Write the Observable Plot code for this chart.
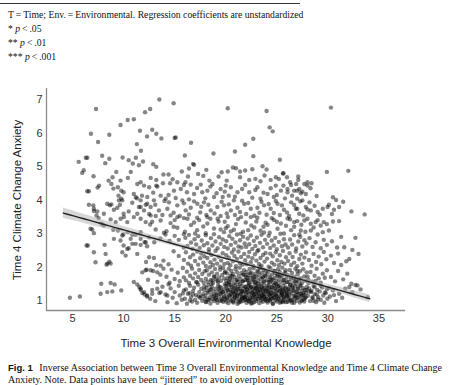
<!DOCTYPE html>
<html><head><meta charset="utf-8">
<script src="https://cdn.jsdelivr.net/npm/d3@7"></script>
<script src="https://cdn.jsdelivr.net/npm/@observablehq/plot@0.6"></script>
<style>
body{margin:0;width:465px;height:385px;overflow:hidden;background:#fff;position:relative;font-family:"Liberation Serif","Times New Roman",serif;color:#111;}
#chart{position:absolute;left:0;top:0;}
.t{position:absolute;white-space:nowrap;}
.note{left:8px;font-size:9.7px;line-height:12px;}
.rule{position:absolute;left:0;top:3px;width:300px;border-top:1px solid #333;}
.ylab{left:17px;top:200px;font-family:"Liberation Sans",Arial,sans-serif;font-size:11.5px;color:#222;transform:translate(-50%,-50%) rotate(-90deg);}
.xlab{left:226px;top:343px;font-family:"Liberation Sans",Arial,sans-serif;font-size:11.5px;color:#222;transform:translate(-50%,-50%);}
.cap{left:8px;top:362px;font-size:10px;line-height:12px;}
.cap b{font-family:"Liberation Sans",Arial,sans-serif;font-size:9.5px;margin-right:4px;}
</style></head>
<body>
<div id="chart"></div>
<div class="rule"></div>
<div class="t note" style="top:9px">T&#8239;=&#8239;Time; Env.&#8239;=&#8239;Environmental. Regression coefficients are unstandardized</div>
<div class="t note" style="top:23px">* <i>p</i>&#8239;&lt;&#8239;.05</div>
<div class="t note" style="top:37px">** <i>p</i>&#8239;&lt;&#8239;.01</div>
<div class="t note" style="top:51px">*** <i>p</i>&#8239;&lt;&#8239;.001</div>
<div class="t ylab">Time 4 Climate Change Anxiety</div>
<div class="t xlab">Time 3 Overall Environmental Knowledge</div>
<div class="t cap"><b>Fig. 1</b> Inverse Association between Time 3 Overall Environmental Knowledge and Time 4 Climate Change<br>Anxiety. Note. Data points have been “jittered” to avoid overplotting</div>
<script>
// [knowledge (T3), anxiety (T4)] pairs
const upperPoints = [[13.5,7.0],[14.9,6.89],[7.3,6.72],[12.6,6.72],[12.1,6.62],[20.2,6.74],[24.0,6.66],[30.3,6.76],[10.4,6.39],[11.0,6.41],[9.7,6.24],[24.3,6.17],[24.6,6.05],[11.6,6.07],[12.8,6.1],[13.2,5.98],[6.8,5.98],[8.6,5.95],[12.3,5.9],[13.7,5.84],[15.0,5.85],[15.1,5.87],[22.7,5.83],[7.5,5.73],[11.3,5.67],[16.6,5.71],[21.9,5.65],[11.7,5.47],[20.9,5.45],[18.8,5.39],[16.0,5.33],[22.7,5.31],[25.3,5.2],[5.6,5.14],[6.3,5.26],[6.45,5.26],[7.9,5.32],[8.6,5.23],[9.9,5.27],[10.5,5.19],[10.9,5.09],[11.2,5.26],[11.5,5.04],[11.9,5.15],[8.2,5.1],[12.9,5.07],[13.2,4.99],[16.4,4.94],[16.8,5.08],[16.9,5.05],[20.7,4.97],[21.0,4.95],[23.6,5.01],[24.0,4.91],[5.95,4.81],[6.1,4.89],[10.7,4.84],[13.9,4.76],[14.4,4.76],[17.3,4.78],[20.2,4.85],[21.4,4.85],[21.9,4.88],[29.9,4.84],[32.0,4.87],[25.6,4.79],[7.06,4.71],[9.28,4.84],[8.92,4.68],[10.42,4.66],[15.7,4.85],[18.1,4.9],[19.6,4.83],[22.6,4.92],[25.65,4.8]];
const leftPoints = [[7.6,4.43],[7.45,4.37],[8.53,4.58],[8.8,4.48],[9.0,4.34],[9.44,4.38],[9.7,4.58],[9.77,4.28],[10.0,4.23],[6.44,4.26],[6.6,4.26],[9.5,4.13],[9.77,4.04],[9.87,3.99],[11.0,4.18],[11.2,4.08],[11.3,4.05],[11.67,3.99],[11.8,4.13],[8.4,3.89],[8.66,3.84],[8.8,3.87],[9.05,3.71],[9.38,3.77],[9.64,3.86],[7.03,3.84],[7.09,3.74],[7.09,3.67],[6.6,3.86],[7.35,3.54],[7.55,3.46],[7.84,3.29],[8.07,3.24],[6.76,3.14],[7.09,3.01],[6.93,3.12],[6.37,2.64],[8.14,2.66],[8.24,2.39],[8.6,2.16],[8.73,2.1],[8.33,2.07],[9.87,2.44],[10.2,2.34],[10.36,2.54],[8.99,3.11],[9.44,3.09],[9.97,2.97],[10.4,3.04],[11.67,2.66],[12.06,2.74],[11.34,2.39],[7.81,1.5],[8.73,1.52],[9.12,1.48],[8.4,1.25],[8.89,1.27],[9.77,1.3],[4.74,1.08],[5.72,1.12],[7.75,1.2],[11.0,1.55],[11.34,1.48],[11.54,1.4],[11.67,1.32],[11.83,1.22],[12.06,1.18],[12.3,1.15],[11.83,1.84],[12.25,1.92],[11.34,4.48],[11.67,3.79],[12.0,3.69],[12.32,3.89],[11.34,3.59],[11.67,3.44],[10.03,3.49],[10.36,3.34],[10.69,2.84],[11.18,2.69],[9.05,2.84],[9.7,2.79],[10.0,2.64],[10.5,2.56],[10.85,2.69],[11.18,2.96],[10.5,3.66],[11.0,3.49],[9.22,3.34],[9.7,3.44],[10.0,3.59],[10.85,3.92],[11.5,3.79],[12.16,3.86],[9.54,3.99],[8.73,3.42],[8.07,3.59],[7.42,3.66],[7.09,2.44],[7.25,2.14],[12.0,4.43],[12.5,4.38],[12.65,4.66],[11.67,4.53],[12.32,4.09],[12.0,1.25],[12.8,1.2],[11.67,1.35],[12.16,1.9],[12.65,1.9],[12.5,2.29],[11.67,2.84],[12.16,2.74],[9.87,2.94],[10.85,2.96],[11.67,3.04],[12.5,2.89],[12.65,3.54],[12.16,3.34],[6.5,2.64],[8.4,2.1]];
const band4 = [[13.2,4.6],[13.85,4.5],[14.55,4.5],[15.26,4.53],[16.05,4.53],[16.57,4.46],[17.55,4.46],[13.2,4.43],[13.3,4.4],[19.3,4.7],[20.1,4.58],[18.4,4.58],[18.7,4.48],[21.4,4.68],[22.3,4.6],[22.9,4.63],[23.1,4.38],[22.3,4.23],[21.6,4.33],[21.15,4.23],[20.5,4.38],[20.0,4.43],[19.5,4.33],[23.8,4.73],[23.4,4.56],[25.2,4.63],[26.3,4.53],[24.4,4.6],[24.9,4.43],[25.4,4.28],[26.05,4.33],[26.9,4.48],[27.0,4.28],[26.5,4.13],[24.7,4.09],[24.1,4.18],[23.4,4.04],[14.93,4.28],[15.6,4.33],[16.2,4.23],[16.9,4.18],[17.7,4.23],[18.2,4.28],[18.85,4.09],[19.7,4.09],[20.3,4.13],[13.63,4.13],[14.12,4.04],[26.0,4.68],[26.4,4.45],[27.2,4.33],[25.65,4.43],[26.05,4.23],[27.0,4.04],[27.7,4.48],[28.0,4.53],[28.4,4.5],[28.0,4.43],[27.1,4.6],[27.5,4.25],[26.7,4.28],[27.35,4.2],[27.84,4.18],[30.5,4.08],[30.8,4.0],[12.9,4.22],[14.4,4.15],[15.1,4.06],[15.9,4.45],[16.4,4.02],[17.2,4.36],[18.0,4.05],[18.5,4.4],[19.1,4.2],[19.9,4.25],[20.9,4.1],[21.9,4.45],[22.6,4.07],[22.9,4.3],[23.7,4.22],[24.4,4.35],[25.0,4.15],[25.8,4.05],[28.3,4.35],[28.9,4.12],[14.8,4.62],[17.8,4.72],[24.9,4.68],[27.1,4.7],[16.3,4.7]];
const band35 = [[12.97,3.99],[14.44,3.93],[12.65,3.79],[13.46,3.69],[14.28,3.74],[15.26,3.84],[15.75,3.99],[16.08,3.69],[16.57,3.77],[17.22,3.89],[17.87,3.93],[18.53,3.69],[19.18,3.79],[19.83,3.84],[20.5,3.69],[21.15,3.77],[21.8,3.89],[22.45,3.74],[23.1,3.77],[23.75,3.84],[24.4,3.74],[25.07,3.89],[25.7,3.71],[26.4,3.93],[27.0,3.74],[20.8,3.99],[27.5,3.99],[28.2,3.93],[27.84,3.79],[26.86,3.74],[28.33,3.69],[27.2,3.59],[29.0,3.64],[29.5,3.74],[29.97,3.79],[30.1,3.86],[31.1,3.79],[30.6,3.71],[32.3,3.66],[33.6,3.57],[13.14,3.52],[14.6,3.54],[12.5,3.58],[13.1,3.86],[13.8,3.55],[14.0,3.97],[14.9,3.62],[15.5,3.52],[15.9,3.9],[16.4,3.57],[16.9,3.96],[17.5,3.63],[17.6,3.8],[18.1,3.55],[18.3,3.86],[18.9,3.6],[19.5,3.52],[19.6,3.95],[20.1,3.6],[20.3,3.87],[20.9,3.55],[21.4,3.64],[21.6,3.98],[22.0,3.58],[22.2,3.91],[22.8,3.53],[23.3,3.62],[23.5,3.95],[24.0,3.56],[24.2,3.88],[24.7,3.61],[24.9,3.97],[25.3,3.55],[25.5,3.84],[26.0,3.63],[26.2,3.52],[26.7,3.85],[27.3,3.96],[27.6,3.54],[28.0,3.72],[28.7,3.83],[29.2,3.56],[30.4,3.58],[31.5,3.95]];
const band3 = [[13.63,3.39],[15.26,3.49],[16.25,3.44],[17.2,3.47],[18.2,3.49],[19.2,3.44],[20.2,3.49],[21.5,3.49],[22.45,3.49],[26.7,3.34],[27.7,3.39],[28.33,3.29],[28.8,3.34],[29.3,3.24],[29.6,3.34],[30.1,3.09],[29.5,3.04],[28.33,3.09],[27.35,3.09],[30.5,3.36],[31.1,3.37],[15.9,3.46],[17.4,3.4],[19.3,3.36],[21.2,3.43],[23.1,3.47],[24.7,3.41],[26.05,3.45],[27.0,3.37],[12.6,3.27],[14.6,3.31],[16.6,3.25],[18.2,3.3],[20.2,3.22],[21.96,3.33],[24.1,3.26],[25.4,3.3],[26.7,3.2],[13.14,3.12],[15.26,3.17],[17.2,3.1],[18.85,3.15],[20.8,3.11],[22.8,3.18],[23.4,3.08],[25.07,3.14],[26.4,3.1],[13.95,3.02],[18.04,3.01],[19.83,3.04],[23.75,3.03],[25.7,3.0],[12.8,3.35],[14.2,3.07],[15.0,3.4],[16.0,3.05],[16.9,3.33],[17.8,3.21],[18.5,3.44],[19.5,3.12],[19.9,3.35],[20.5,3.06],[21.0,3.28],[22.2,3.1],[22.5,3.24],[23.0,3.36],[23.7,3.2],[24.3,3.02],[24.5,3.46],[25.0,3.35],[25.9,3.23],[26.3,3.42],[27.4,3.26],[27.8,3.05],[28.0,3.44],[28.6,3.18],[29.0,3.4],[29.9,3.28],[14.9,3.2],[17.0,3.0],[20.0,3.16],[21.7,3.05],[23.9,3.32]];
const band25 = [[12.3,2.62],[13.0,2.74],[13.6,2.85],[14.1,2.97],[14.5,2.78],[15.0,2.93],[15.4,2.81],[15.9,2.58],[16.05,2.87],[16.25,2.63],[16.4,2.96],[16.6,2.73],[16.75,2.54],[16.95,2.83],[17.1,2.67],[17.3,2.92],[17.45,2.57],[17.65,2.79],[17.85,2.65],[18.05,2.95],[18.2,2.71],[18.35,2.53],[18.55,2.86],[18.7,2.64],[18.85,2.98],[19.0,2.76],[19.2,2.56],[19.35,2.89],[19.5,2.69],[19.7,2.82],[19.85,2.6],[20.05,2.77],[20.2,2.55],[20.35,2.92],[20.5,2.66],[20.65,2.84],[20.8,2.52],[20.95,2.73],[21.1,2.97],[21.25,2.61],[21.4,2.8],[21.55,2.58],[21.7,2.9],[21.85,2.7],[22.0,2.6],[22.15,2.85],[22.3,2.68],[22.45,2.94],[22.6,2.54],[22.75,2.78],[22.9,2.63],[23.05,2.88],[23.2,2.51],[23.35,2.72],[23.5,2.96],[23.65,2.59],[23.85,2.81],[24.05,2.69],[24.2,2.93],[24.35,2.57],[24.5,2.79],[24.7,2.64],[24.85,2.87],[25.0,2.53],[25.2,2.75],[25.35,2.99],[25.5,2.62],[25.7,2.83],[25.85,2.67],[26.1,2.58],[26.3,2.82],[26.5,2.67],[26.7,2.95],[26.9,2.55],[27.1,2.76],[27.3,2.9],[27.5,2.61],[27.7,2.8],[27.9,2.7],[28.2,2.86],[28.5,2.6],[28.8,2.74],[29.0,2.97],[29.3,2.56],[29.6,2.81],[29.9,2.66],[30.4,2.77],[30.9,2.58],[31.3,2.9],[32.7,2.87],[31.6,2.59],[32.4,2.51],[15.9,2.98],[21.47,2.99],[27.2,2.97]];
const band2 = [[12.2,2.15],[13.2,2.05],[13.9,2.19],[14.4,2.08],[14.9,2.47],[15.4,2.33],[15.9,2.21],[16.1,2.44],[16.3,2.1],[16.5,2.29],[16.6,2.04],[16.8,2.37],[17.0,2.18],[17.2,2.46],[17.3,2.07],[17.5,2.26],[17.6,2.4],[17.8,2.13],[17.9,2.32],[18.05,2.03],[18.2,2.27],[18.35,2.45],[18.5,2.14],[18.6,2.36],[18.75,2.06],[18.9,2.22],[19.0,2.48],[19.15,2.1],[19.3,2.31],[19.45,2.01],[19.55,2.19],[19.7,2.41],[19.85,2.09],[20.05,2.35],[20.2,2.12],[20.3,2.28],[20.45,2.05],[20.6,2.43],[20.7,2.17],[20.85,2.33],[21.0,2.02],[21.1,2.24],[21.25,2.46],[21.4,2.11],[21.5,2.3],[21.65,2.07],[21.8,2.39],[21.9,2.2],[22.05,2.08],[22.2,2.31],[22.3,2.45],[22.45,2.14],[22.6,2.26],[22.7,2.03],[22.85,2.38],[23.0,2.19],[23.1,2.47],[23.25,2.09],[23.4,2.27],[23.5,2.04],[23.65,2.36],[23.8,2.16],[23.9,2.42],[24.05,2.25],[24.2,2.01],[24.35,2.4],[24.5,2.13],[24.6,2.32],[24.75,2.07],[24.9,2.44],[25.05,2.2],[25.2,2.05],[25.3,2.35],[25.45,2.15],[25.6,2.48],[25.75,2.1],[25.9,2.29],[26.1,2.18],[26.25,2.41],[26.4,2.06],[26.55,2.3],[26.7,2.13],[26.85,2.46],[27.0,2.02],[27.2,2.24],[27.35,2.37],[27.5,2.1],[27.7,2.28],[27.85,2.44],[28.15,2.21],[28.4,2.04],[28.6,2.39],[28.85,2.15],[29.1,2.31],[29.35,2.08],[29.6,2.45],[29.85,2.23],[30.3,2.34],[30.6,2.12],[31.0,2.4],[31.3,2.06],[33.0,2.39],[32.1,2.24],[31.8,2.17],[12.97,2.27],[13.63,2.04]];
const band15 = [[12.4,1.62],[12.9,1.88],[13.3,1.55],[13.6,1.77],[13.9,1.95],[14.2,1.71],[14.5,1.53],[14.7,1.92],[15.0,1.64],[15.3,1.83],[15.5,1.58],[15.8,1.97],[15.9,1.69],[16.1,1.6],[16.2,1.86],[16.4,1.52],[16.5,1.74],[16.7,1.95],[16.8,1.66],[17.0,1.81],[17.1,1.55],[17.3,1.7],[17.4,1.91],[17.6,1.61],[17.7,1.79],[17.85,1.53],[17.95,1.87],[18.05,1.65],[18.15,1.9],[18.25,1.56],[18.35,1.77],[18.45,1.99],[18.55,1.61],[18.65,1.84],[18.75,1.52],[18.85,1.72],[18.95,1.94],[19.05,1.63],[19.15,1.8],[19.25,1.54],[19.35,1.69],[19.45,1.92],[19.55,1.59],[19.65,1.76],[19.75,1.97],[19.85,1.66],[19.95,1.86],[20.04,1.58],[20.12,1.81],[20.2,1.67],[20.29,1.95],[20.37,1.53],[20.46,1.74],[20.54,1.88],[20.62,1.62],[20.71,1.79],[20.79,1.51],[20.87,1.7],[20.96,1.93],[21.04,1.6],[21.12,1.84],[21.21,1.55],[21.29,1.73],[21.37,1.98],[21.46,1.64],[21.54,1.82],[21.62,1.57],[21.71,1.77],[21.79,1.9],[21.87,1.61],[21.96,1.71],[22.03,1.85],[22.1,1.6],[22.18,1.76],[22.26,1.52],[22.33,1.94],[22.41,1.68],[22.49,1.83],[22.56,1.56],[22.64,1.72],[22.72,1.96],[22.79,1.63],[22.87,1.8],[22.95,1.54],[23.03,1.7],[23.1,1.89],[23.18,1.59],[23.26,1.77],[23.33,1.99],[23.41,1.65],[23.49,1.51],[23.56,1.82],[23.64,1.69],[23.72,1.92],[23.79,1.57],[23.87,1.75],[23.95,1.87],[24.04,1.62],[24.12,1.83],[24.2,1.55],[24.29,1.71],[24.37,1.96],[24.46,1.6],[24.54,1.78],[24.62,1.52],[24.71,1.88],[24.79,1.67],[24.87,1.81],[24.96,1.57],[25.04,1.74],[25.12,1.93],[25.21,1.63],[25.29,1.85],[25.37,1.54],[25.46,1.72],[25.54,1.98],[25.62,1.61],[25.71,1.79],[25.79,1.53],[25.87,1.9],[25.96,1.68],[26.05,1.76],[26.16,1.55],[26.27,1.91],[26.38,1.64],[26.49,1.82],[26.6,1.52],[26.71,1.7],[26.82,1.95],[26.93,1.6],[27.04,1.78],[27.15,1.57],[27.26,1.87],[27.37,1.66],[27.48,1.53],[27.59,1.93],[27.7,1.72],[27.81,1.59],[27.92,1.84],[28.1,1.62],[28.3,1.85],[28.5,1.56],[28.7,1.74],[28.9,1.95],[29.1,1.66],[29.3,1.53],[29.5,1.8],[29.7,1.68],[29.9,1.9],[30.3,1.7],[30.7,1.57],[31.0,1.88],[31.5,1.63],[31.9,1.8],[13.3,1.84]];
const band1 = [[12.3,1.12],[12.8,1.31],[13.1,0.98],[13.5,1.22],[13.8,1.41],[12.6,1.05],[14.1,1.18],[14.3,0.95],[14.6,1.36],[14.8,1.08],[15.0,1.25],[15.2,0.92],[15.4,1.44],[15.5,1.15],[15.7,1.02],[15.9,1.3],[14.4,1.48],[15.8,1.21],[16.0,1.05],[16.1,1.33],[16.2,0.9],[16.3,1.2],[16.5,1.44],[16.6,1.1],[16.7,0.97],[16.8,1.28],[16.9,1.38],[17.0,1.02],[17.1,1.16],[17.2,0.93],[17.3,1.47],[17.4,1.25],[17.5,1.08],[17.6,1.35],[17.7,0.99],[17.8,1.19],[17.9,1.42],[17.95,1.06],[16.45,1.22],[17.35,1.12],[18.0,1.14],[18.05,0.95],[18.1,1.38],[18.2,1.23],[18.25,1.02],[18.3,1.46],[18.4,1.09],[18.45,1.31],[18.5,0.91],[18.6,1.18],[18.65,1.4],[18.7,1.04],[18.8,1.27],[18.85,0.98],[18.9,1.15],[19.0,1.35],[19.05,1.07],[19.1,1.22],[19.2,0.93],[19.25,1.44],[19.3,1.12],[19.4,1.29],[19.45,1.0],[19.5,1.19],[19.55,1.38],[19.6,1.06],[19.7,1.25],[19.75,0.96],[19.8,1.33],[19.85,1.13],[19.9,1.48],[19.95,1.03],[18.55,1.34],[19.15,1.01],[20.0,1.21],[20.05,0.97],[20.1,1.36],[20.15,1.1],[20.2,1.28],[20.25,0.92],[20.3,1.45],[20.35,1.16],[20.4,1.03],[20.45,1.32],[20.5,1.2],[20.55,0.99],[20.6,1.4],[20.65,1.11],[20.7,1.26],[20.75,0.94],[20.8,1.37],[20.85,1.07],[20.9,1.18],[20.95,1.47],[21.0,1.01],[21.05,1.3],[21.1,1.14],[21.15,0.9],[21.2,1.42],[21.25,1.22],[21.3,1.05],[21.35,1.34],[21.4,1.17],[21.45,0.96],[21.5,1.29],[21.55,1.44],[21.6,1.09],[21.65,1.24],[21.7,0.98],[21.75,1.36],[21.8,1.12],[21.85,1.27],[21.9,1.02],[21.95,1.4],[22.0,1.15],[22.04,0.93],[22.08,1.33],[22.12,1.06],[22.17,1.24],[22.21,1.45],[22.25,0.99],[22.3,1.18],[22.34,1.37],[22.38,1.08],[22.43,1.27],[22.47,0.91],[22.51,1.41],[22.56,1.13],[22.6,1.22],[22.64,1.02],[22.69,1.35],[22.73,1.16],[22.77,0.95],[22.82,1.29],[22.86,1.47],[22.9,1.1],[22.95,1.21],[22.99,0.98],[23.03,1.38],[23.08,1.14],[23.12,1.26],[23.16,1.04],[23.21,1.43],[23.25,1.19],[23.29,0.92],[23.34,1.31],[23.38,1.09],[23.42,1.23],[23.47,1.0],[23.51,1.39],[23.55,1.15],[23.6,1.28],[23.64,0.96],[23.68,1.34],[23.73,1.11],[23.77,1.46],[23.81,1.2],[23.86,1.03],[23.92,1.3],[24.0,1.12],[24.05,1.37],[24.1,0.94],[24.14,1.25],[24.19,1.06],[24.24,1.43],[24.29,1.17],[24.33,0.99],[24.38,1.32],[24.43,1.21],[24.48,1.04],[24.52,1.4],[24.57,1.14],[24.62,0.9],[24.67,1.28],[24.71,1.09],[24.76,1.46],[24.81,1.19],[24.86,1.01],[24.9,1.35],[24.95,1.23],[25.0,0.97],[25.05,1.3],[25.1,1.13],[25.14,1.42],[25.19,1.05],[25.24,1.26],[25.29,0.93],[25.33,1.38],[25.38,1.16],[25.43,1.07],[25.48,1.33],[25.52,1.2],[25.57,0.98],[25.62,1.44],[25.67,1.11],[25.71,1.27],[25.76,1.02],[25.81,1.36],[25.86,1.15],[25.9,0.95],[25.95,1.24],[26.0,1.18],[26.06,0.96],[26.12,1.34],[26.19,1.09],[26.25,1.27],[26.31,1.45],[26.37,1.02],[26.44,1.21],[26.5,0.93],[26.56,1.38],[26.62,1.13],[26.69,1.3],[26.75,1.05],[26.81,1.42],[26.87,1.16],[26.94,0.99],[27.0,1.25],[27.06,1.36],[27.12,1.08],[27.19,1.2],[27.25,0.94],[27.31,1.44],[27.37,1.12],[27.44,1.29],[27.5,1.01],[27.56,1.37],[27.62,1.17],[27.69,0.97],[27.75,1.31],[27.81,1.1],[27.87,1.23],[27.94,1.4],[28.05,1.14],[28.15,1.36],[28.25,0.98],[28.35,1.25],[28.5,1.07],[28.6,1.43],[28.7,1.19],[28.85,0.95],[28.95,1.31],[29.05,1.1],[29.2,1.27],[29.3,1.02],[29.45,1.39],[29.55,1.15],[29.65,0.93],[29.8,1.22],[29.9,1.34],[29.95,1.05],[30.2,1.12],[30.5,1.3],[30.8,0.98],[31.1,1.2],[31.4,1.08],[31.7,1.35],[32.3,1.5],[32.7,1.46],[33.2,1.33],[32.9,1.45],[32.1,1.4],[32.4,1.25],[33.9,1.1],[13.3,1.35],[13.63,1.25],[14.28,1.15]];
const coreCluster = [[18.3,1.27],[21.7,1.08],[24.9,1.51],[19.6,0.99],[26.2,1.33],[22.8,1.72],[20.4,1.15],[27.7,1.04],[23.5,1.41],[25.6,0.95],[21.1,1.62],[28.4,1.29],[19.9,1.83],[24.2,1.19],[22.3,0.97],[26.8,1.58],[20.9,1.36],[23.9,1.03],[25.1,1.77],[18.8,1.12],[27.3,1.46],[22.6,1.25],[24.6,0.91],[21.4,1.49],[26.0,1.13],[19.2,1.59],[23.2,1.86],[25.9,1.39],[20.1,1.06],[28.9,1.18],[22.1,1.33],[24.4,1.66],[26.5,1.01],[20.6,1.74],[23.7,1.22],[27.0,1.88],[21.9,1.11],[25.3,1.29],[19.4,1.41],[24.0,0.98],[22.9,1.53],[26.9,1.24],[20.2,1.31],[23.3,1.12],[25.7,1.61],[18.6,1.49],[27.5,1.15],[21.3,0.94],[24.8,1.37],[22.4,1.81],[26.3,1.47],[20.8,1.21],[23.0,1.04],[25.5,1.18],[28.1,1.52],[19.7,1.26],[24.3,1.55],[21.6,1.28],[26.7,0.93],[22.7,1.09],[23.6,1.69],[25.0,1.12],[20.5,1.45],[27.9,1.31],[21.8,1.77],[24.5,1.23],[22.2,1.6],[26.1,1.05],[19.1,1.17],[23.8,1.35],[25.8,1.84],[21.0,1.26],[27.2,1.65],[24.1,1.44],[22.0,1.02],[26.6,1.29],[20.3,1.55],[23.4,1.97],[25.2,1.43],[28.6,0.99],[21.5,1.19],[24.7,1.07],[22.5,1.39],[26.4,1.71],[19.8,1.09],[23.1,1.28],[25.4,0.96],[27.6,1.22],[20.7,0.97],[24.9,1.16],[22.8,1.19],[26.0,1.55],[21.2,1.35],[23.5,1.06],[25.6,1.32],[18.9,1.71],[27.4,0.99],[22.3,1.48],[24.2,1.31],[20.0,1.43],[23.9,1.74],[26.2,1.17],[21.7,1.57],[25.1,1.04],[28.2,1.27],[22.6,0.92],[24.6,1.63],[19.5,1.21],[23.2,1.49],[26.8,1.12],[20.9,1.09],[25.9,1.26],[22.1,1.68],[24.4,1.11],[27.1,1.35],[21.4,1.0],[23.7,1.57],[25.3,1.73],[19.3,1.33],[26.5,1.41],[22.9,1.36],[24.0,1.27],[20.4,1.65],[27.8,1.08],[21.1,1.14],[25.7,1.08],[23.3,1.33],[26.9,1.49],[22.4,1.03],[24.8,1.88],[20.6,1.27],[28.7,1.4],[23.6,1.15],[25.0,1.48],[21.9,1.42],[26.3,0.98],[19.0,1.04],[24.3,1.02],[22.7,1.62],[27.3,1.2],[20.1,1.5],[23.0,1.39],[25.5,1.22],[21.6,1.06],[26.7,1.66],[24.5,1.39],[22.0,1.24],[18.4,1.02],[27.0,1.09],[23.8,1.09],[29.3,1.44],[28.0,1.72],[29.7,1.24],[28.5,1.1],[30.1,1.37],[29.0,1.03],[30.6,1.16],[28.8,1.58],[17.6,1.13],[17.2,1.54],[18.1,0.96],[17.9,1.31],[16.8,1.18],[18.7,1.6],[16.5,1.0]];

// axis ticks
const xTicks = [5, 10, 15, 20, 25, 30, 35];
const yTicks = [1, 2, 3, 4, 5, 6, 7];

// regression (unstandardized) and fit summary
const intercept = 3.96, slope = -0.0853;
const fitFrom = 4.1, fitTo = 34.1;
const residSD = 0.75, nObs = 1100, meanX = 21.5, sxx = 30800;

const points = [...upperPoints, ...leftPoints, ...band4, ...band35, ...band3, ...band25, ...band2, ...band15, ...band1, ...coreCluster]
  .map(([k, a]) => ({k, a}));

const fit = d3.range(fitFrom, fitTo + 0.001, 0.5).map(x => {
  const yhat = intercept + slope * x;
  const se = residSD * Math.sqrt(1 / nObs + (x - meanX) ** 2 / sxx);
  return {x, y: yhat, lo: yhat - 1.96 * se, hi: yhat + 1.96 * se};
});

const xDom = [2.45, 37.6], yDom = [0.7, 7.33];

const chart = Plot.plot({
  width: 465, height: 385,
  marginTop: 88, marginBottom: 75, marginLeft: 46, marginRight: 60,
  style: {background: "transparent", fontFamily: "'Liberation Sans', Arial, sans-serif", fontSize: "11px", color: "#333"},
  x: {domain: xDom, ticks: xTicks, tickFormat: "d", tickSize: 0, tickPadding: 4, label: null},
  y: {domain: yDom, ticks: yTicks, tickFormat: "d", tickSize: 0, tickPadding: 4, label: null},
  marks: [
    Plot.dot(points, {x: "k", y: "a", r: 2.2, fill: "#000", fillOpacity: 0.48, stroke: "none"}),
    Plot.areaY(fit, {x: "x", y1: "lo", y2: "hi", fill: "#b0b0b0", fillOpacity: 0.5}),
    Plot.line(fit, {x: "x", y: "y", stroke: "#222", strokeWidth: 1.4}),
    Plot.ruleX([xDom[0]], {stroke: "#8a8a8a", strokeWidth: 1.3}),
    Plot.ruleY([yDom[0]], {stroke: "#8a8a8a", strokeWidth: 1.3})
  ]
});
document.getElementById("chart").appendChild(chart);
</script>
</body></html>
